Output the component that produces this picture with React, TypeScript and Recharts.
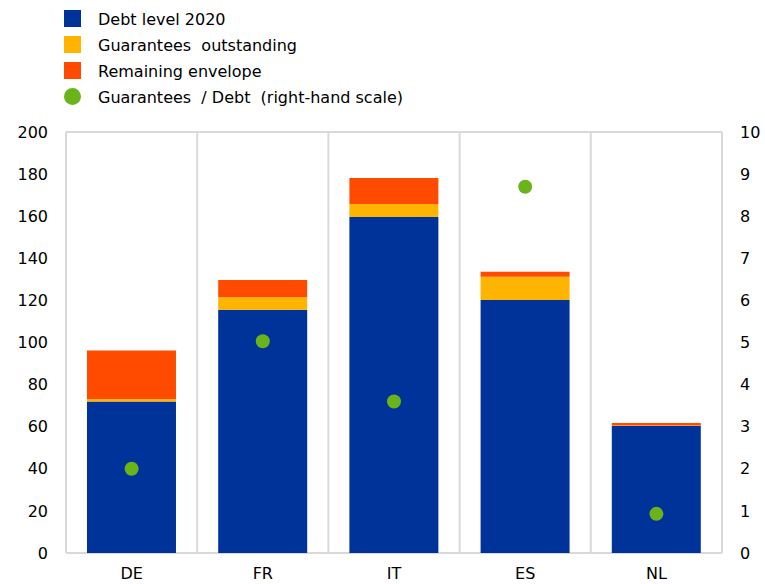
import React from 'react';
import { ComposedChart, Bar, Scatter, XAxis, YAxis, CartesianGrid } from 'recharts';

const countries = ['DE', 'FR', 'IT', 'ES', 'NL'];
const debtLevel = [72, 115.5, 159.6, 120.2, 60.3];
const guaranteesOutstanding = [1.2, 6, 6.2, 11, 0.3];
const remainingEnvelope = [23, 8.2, 12.3, 2.4, 1.2];
const guaranteesToDebt = [2.0, 5.03, 3.6, 8.7, 0.93];

const leftTicks = [0, 20, 40, 60, 80, 100, 120, 140, 160, 180, 200];
const rightTicks = [0, 1, 2, 3, 4, 5, 6, 7, 8, 9, 10];

const seriesNames = ['Debt level 2020', 'Guarantees  outstanding', 'Remaining envelope', 'Guarantees  / Debt  (right-hand scale)'];
const colors = ['#003399', '#FFB400', '#FF4B00', '#6AB41A'];

const data = countries.map((c, i) => ({
  country: c,
  debt: debtLevel[i],
  guarantees: guaranteesOutstanding[i],
  envelope: remainingEnvelope[i],
  ratio: guaranteesToDebt[i],
}));

const font = '"DejaVu Sans", Arial, sans-serif';
const tickStyle = { fill: '#000', fontSize: 16, fontFamily: font };

if (typeof document !== 'undefined') {
  document.body.style.margin = '0';
  document.body.style.overflow = 'hidden';
}

export default function App() {
  return (
    <div style={{ position: 'relative', width: 765, height: 584, overflow: 'hidden', background: '#fff', fontFamily: font }}>
      <div style={{ position: 'absolute', left: 64, top: 5 }}>
        {seriesNames.map((name, i) => (
          <div key={name} style={{ display: 'flex', alignItems: 'center', height: 26 }}>
            <span style={{ width: 17, height: 17, background: colors[i], borderRadius: i === 3 ? '50%' : 0, display: 'inline-block' }} />
            <span style={{ marginLeft: 17, fontSize: 16, whiteSpace: 'pre', color: '#000', position: 'relative', top: 1 }}>{name}</span>
          </div>
        ))}
      </div>
      <ComposedChart width={765} height={584} data={data} margin={{ top: 132, right: 0, bottom: 0, left: 0 }} barCategoryGap="16%" style={{ position: 'absolute', left: 0, top: 0 }}>
        <CartesianGrid stroke="#d9d9d9" strokeWidth={2}
          verticalCoordinatesGenerator={({ offset }: any) => countries.map((_, i) => offset.left + (offset.width * i) / countries.length).concat(offset.left + offset.width)}
        />
        <XAxis dataKey="country" height={31} tickLine={false} axisLine={false} tickSize={0} tickMargin={15} tick={tickStyle} interval={0} />
        <YAxis yAxisId="left" width={66} domain={[0, 200]} ticks={leftTicks} tickLine={false} axisLine={false} tickSize={0} tickMargin={18} tick={tickStyle} interval={0} />
        <YAxis yAxisId="right" orientation="right" width={43} domain={[0, 10]} ticks={rightTicks} tickLine={false} axisLine={false} tickSize={0} tickMargin={18} tick={{ ...tickStyle, textAnchor: 'start' }} interval={0} />
        <Bar yAxisId="left" dataKey="debt" stackId="a" fill={colors[0]} isAnimationActive={false} />
        <Bar yAxisId="left" dataKey="guarantees" stackId="a" fill={colors[1]} isAnimationActive={false} />
        <Bar yAxisId="left" dataKey="envelope" stackId="a" fill={colors[2]} isAnimationActive={false} />
        <Scatter yAxisId="right" dataKey="ratio" fill={colors[3]} isAnimationActive={false}
          shape={(p: any) => <circle cx={p.cx} cy={p.cy} r={7} fill={colors[3]} />}
        />
      </ComposedChart>
    </div>
  );
}
